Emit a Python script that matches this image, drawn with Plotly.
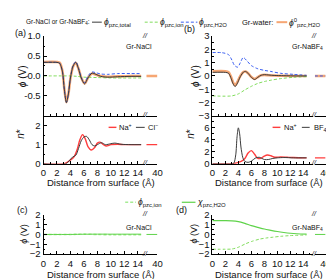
import plotly.graph_objects as go

# ---------------- data ----------------
# (a) Gr-NaCl, potential profiles (V)
a_x_total = [0, 2.0, 2.4, 2.8, 3.1, 3.4, 3.7, 4.0, 4.4, 4.8, 5.2, 5.6, 6.1, 6.6, 7.2, 7.8, 8.5, 9.5, 11, 13, 14.5]
a_total   = [0.34, 0.34, 0.32, 0.12, -0.35, -0.67, -0.45, -0.05, 0.25, 0.34, 0.18, -0.05, -0.2, -0.05, 0.07, 0.04, -0.01, -0.03, -0.02, -0.01, -0.01]
a_water0  = [0.35, 0.35, 0.33, 0.13, -0.33, -0.66, -0.45, -0.06, 0.24, 0.33, 0.18, -0.04, -0.19, -0.05, 0.06, 0.03, 0.0, -0.02, -0.01, 0.0, 0.0]
a_h2o     = [0.34, 0.34, 0.32, 0.12, -0.35, -0.66, -0.44, -0.04, 0.27, 0.36, 0.2, -0.03, -0.17, 0.0, 0.1, 0.08, 0.05, 0.04, 0.06, 0.06, 0.06]
a_x_ion   = [0, 4, 5, 6, 8, 10, 14.5]
a_ion     = [0, 0, -0.01, -0.03, -0.04, -0.05, -0.05]
# (a) number densities
a_x_na = [0, 3.0, 3.5, 4.0, 4.5, 5.0, 5.4, 5.8, 6.2, 6.6, 7.1, 7.6, 8.0, 8.4, 8.8, 9.3, 10, 11, 12, 13, 14.5]
a_na   = [0, 0, 0.08, 0.2, 0.35, 0.75, 1.25, 1.52, 1.3, 0.9, 0.72, 0.85, 1.08, 1.13, 1.02, 0.93, 1.0, 1.02, 1.0, 1.0, 1.0]
a_x_cl = [0, 3.3, 3.8, 4.3, 4.8, 5.2, 5.6, 6.0, 6.4, 6.8, 7.2, 7.6, 8.0, 8.6, 9.2, 10, 10.6, 11.5, 13, 14.5]
a_cl   = [0, 0, 0.15, 0.35, 0.45, 0.8, 1.2, 1.4, 1.43, 1.25, 1.0, 0.93, 1.0, 1.1, 1.0, 1.05, 1.08, 1.02, 1.0, 1.0]

# (b) Gr-NaBF4, potential profiles (V)
b_x_total = [0, 2.0, 2.5, 2.9, 3.2, 3.5, 3.8, 4.3, 4.8, 5.1, 5.5, 6.0, 6.5, 7.0, 7.5, 8.0, 8.7, 9.5, 11, 13, 14.5]
b_total   = [0.27, 0.27, 0.2, -0.2, -0.6, -0.8, -0.6, -0.05, 0.3, 0.34, 0.2, -0.1, -0.27, -0.1, 0.05, 0.1, 0.07, 0.04, 0.02, 0.0, 0.0]
b_water0  = [0.35, 0.35, 0.28, -0.1, -0.5, -0.7, -0.5, 0.0, 0.3, 0.33, 0.2, -0.08, -0.22, -0.08, 0.05, 0.08, 0.05, 0.03, 0.01, 0.0, 0.0]
b_x_h2o = [0, 1.5, 2.5, 3.0, 3.4, 3.9, 4.3, 4.75, 5.3, 6.0, 7.0, 8.0, 9.0, 10.5, 12.5, 14.5]
b_h2o   = [1.76, 1.75, 1.6, 1.2, 0.8, 0.66, 1.0, 1.39, 1.15, 0.78, 0.54, 0.42, 0.34, 0.2, 0.12, 0.05]
b_x_ion = [0, 3, 4, 5, 6, 7, 8, 9, 10.5, 12.5, 14.5]
b_ion   = [-1.5, -1.5, -1.35, -1.05, -0.78, -0.56, -0.42, -0.32, -0.2, -0.1, -0.05]
# (b) number densities
b_x_bf4 = [0, 3.0, 3.3, 3.6, 3.8, 4.0, 4.2, 4.4, 4.7, 5.0, 5.5, 6.0, 6.6, 7.2, 8.0, 8.6, 9.3, 10, 11, 12.5, 14.5]
b_bf4   = [0, 0, 0.1, 1.5, 4.5, 6.0, 5.0, 2.8, 1.0, 0.4, 0.25, 0.45, 0.95, 1.1, 0.72, 0.72, 0.9, 1.0, 1.05, 1.0, 1.0]
b_x_na = [0, 3.0, 3.5, 4.0, 4.5, 5.0, 5.5, 6.0, 6.5, 7.0, 7.5, 8.0, 8.5, 9.0, 9.6, 10.5, 11.5, 12.5, 14.5]
b_na   = [0, 0, 0.1, 0.25, 0.45, 0.9, 1.8, 2.2, 1.6, 0.9, 0.95, 1.3, 1.47, 1.35, 1.1, 1.15, 1.1, 1.05, 1.0]

# (c) Gr-NaCl decomposition
c_x_chi = [0, 4, 5, 6, 8, 10, 14.5]
c_chi   = [0, 0, 0.01, 0.02, 0.03, 0.03, 0.03]
c_x_ion = [0, 4, 5, 6, 8, 10, 14.5]
c_ion   = [0, 0, 0.02, 0.03, 0.0, -0.03, -0.03]
# (d) Gr-NaBF4 decomposition
d_x_chi = [0, 2, 3, 4, 5, 6, 7, 8, 9, 10, 11, 12, 13, 14.5]
d_chi   = [1.4, 1.4, 1.38, 1.3, 1.12, 0.9, 0.72, 0.55, 0.42, 0.3, 0.2, 0.12, 0.07, 0.03]
d_x_ion = [0, 2, 3, 4, 5.1, 6, 7.3, 8.3, 9.3, 10.5, 11.9, 14.5]
d_ion   = [-1.5, -1.5, -1.48, -1.3, -0.95, -0.72, -0.47, -0.36, -0.28, -0.19, -0.12, -0.05]

# far-field (right axis segment)
far_x = [15, 40]
far_zero = [0, 0]
far_one = [1, 1]

# tick labels
xt_left = [0, 2, 4, 6, 8, 10, 12, 14]
xt_right = [40]

# ---------------- style ----------------
W, H = 334, 279
FONT = "Liberation Sans, Arial, sans-serif"
C_TOTAL = "#3a3a3a"
C_ION = "#80dc5c"
C_H2O = "#3a5ef0"
C_W0 = "rgba(245,150,90,0.85)"
C_NA = "#ff3d3d"
C_AN = "#3a3a3a"
C_CHI = "#5fd34a"
C_ION2 = "#a6ec94"

def fx(px):
    return px / W

def fy(py):
    return 1 - py / H

fig = go.Figure()
layout = {}

def make_pair(idx, xl, xb, xr, yt, yb, xr_left, yrange, ytv, ytt, show_xlab, ydt_minor):
    # left segment idx, right segment idx+1
    for k, (d0, d1, rng, tv, right) in enumerate([
        (xl, xb, xr_left, xt_left, False),
        (xb + 1.8, xr, [15, 40], xt_right, True),
    ]):
        n = idx + k
        xa = dict(domain=[fx(d0), fx(d1)], range=rng, anchor=f"y{n}",
                  showline=True, linecolor="#000", linewidth=1,
                  ticks="inside", ticklen=3, tickwidth=1, tickcolor="#000",
                  tickvals=tv, showticklabels=show_xlab, tickangle=0,
                  tickfont=dict(size=9.5, color="#111", family=FONT),
                  showgrid=False, zeroline=False)
        if not right:
            xa["minor"] = dict(dtick=1, tick0=0, ticks="inside", ticklen=1.5, tickcolor="#000")
        ya = dict(domain=[fy(yb), fy(yt)], range=yrange, anchor=f"x{n}",
                  showgrid=False, zeroline=False)
        if right:
            ya.update(visible=False)
        else:
            ya.update(showline=True, linecolor="#000", linewidth=1,
                      ticks="inside", ticklen=3, tickwidth=1, tickcolor="#000",
                      tickvals=ytv, ticktext=ytt,
                      tickfont=dict(size=9.5, color="#111", family=FONT),
                      minor=dict(dtick=ydt_minor, tick0=0, ticks="inside", ticklen=1.5, tickcolor="#000"))
        layout[f"xaxis{n}"] = xa
        layout[f"yaxis{n}"] = ya

A_XL, A_XB, A_XR = 33.3, 136.8, 150
B_XL, B_XB, B_XR = 206.3, 309.5, 322.3
TOP_T, TOP_B, BOT_B = 23, 106, 156
CD_T, CD_B = 209, 250

make_pair(1, A_XL, A_XB, A_XR, TOP_T, TOP_B, [0, 15], [-1, 1],
          [-0.5, 0, 0.5, 1.0], ["-0.5", "0.0", "0.5", "1.0"], False, 0.25)
make_pair(3, A_XL, A_XB, A_XR, TOP_B, BOT_B, [0, 15], [0, 2.5],
          [0, 1, 2], ["0", "1", "2"], True, 0.5)
make_pair(5, B_XL, B_XB, B_XR, TOP_T, TOP_B, [0, 15.5], [-3, 3],
          [-3, -2, -1, 0, 1, 2, 3], ["\u22123", "\u22122", "\u22121", "0", "1", "2", "3"], False, 0.5)
make_pair(7, B_XL, B_XB, B_XR, TOP_B, BOT_B, [0, 15.5], [0, 8],
          [0, 2, 4, 6], ["0", "2", "4", "6"], True, 1)
make_pair(9, A_XL, A_XB, A_XR, CD_T, CD_B, [0, 15], [-2, 2],
          [-2, -1, 0, 1, 2], ["\u22122", "\u22121", "0", "1", "2"], True, 0.5)
make_pair(11, B_XL, B_XB, B_XR, CD_T, CD_B, [0, 15.5], [-2, 2],
          [-2, -1, 0, 1, 2], ["\u22122", "\u22121", "0", "1", "2"], True, 0.5)

def line(x, y, n, color, width=1, dash="solid", shape="spline"):
    fig.add_trace(go.Scatter(x=x, y=y, xaxis=f"x{n}" if n > 1 else "x",
                             yaxis=f"y{n}" if n > 1 else "y", mode="lines",
                             line=dict(color=color, width=width, dash=dash, shape=shape, smoothing=0.8),
                             showlegend=False, hoverinfo="skip"))

DASH = "3px,2px"
# (a) top
line(a_x_total, a_water0, 1, C_W0, 2.6)
line(a_x_ion, a_ion, 1, C_ION, 1, DASH)
line(a_x_total, a_h2o, 1, C_H2O, 1, DASH)
line(a_x_total, a_total, 1, C_TOTAL, 1)
line(far_x, far_zero, 2, C_W0, 2.6, shape="linear")
# (a) bottom
line(a_x_na, a_na, 3, C_NA, 1.4)
line(a_x_cl, a_cl, 3, C_AN, 1)
line(far_x, far_one, 4, C_NA, 1.4, shape="linear")
# (b) top
line(b_x_total, b_water0, 5, C_W0, 2.6)
line(b_x_ion, b_ion, 5, C_ION, 1, DASH)
line(b_x_h2o, b_h2o, 5, C_H2O, 1, DASH)
line(b_x_total, b_total, 5, C_TOTAL, 1)
line(far_x, far_zero, 6, C_W0, 2.6, shape="linear")
line(far_x, far_zero, 6, C_H2O, 1, DASH, shape="linear")
# (b) bottom
line(b_x_na, b_na, 7, C_NA, 1.4)
line(b_x_bf4, b_bf4, 7, C_AN, 1)
line(far_x, far_one, 8, C_NA, 1.4, shape="linear")
# (c)
line(c_x_ion, c_ion, 9, C_ION2, 1.6, DASH)
line(c_x_chi, c_chi, 9, C_CHI, 1)
line(far_x, far_zero, 10, C_CHI, 1, shape="linear")
# (d)
line(d_x_ion, d_ion, 11, C_ION, 1, DASH)
line(d_x_chi, d_chi, 11, C_CHI, 1.2)
line(far_x, far_zero, 12, C_CHI, 1, shape="linear")

ann = []
shapes = []

def text(px, py, s, size=8, xanchor="left", angle=0, color="#111"):
    ann.append(dict(x=fx(px), y=fy(py), xref="paper", yref="paper", text=s,
                    showarrow=False, xanchor=xanchor, yanchor="middle",
                    textangle=angle, font=dict(size=size, color=color, family=FONT)))

def seg(x0, x1, py, color, width=1, dash="solid"):
    shapes.append(dict(type="line", xref="paper", yref="paper",
                       x0=fx(x0), x1=fx(x1), y0=fy(py), y1=fy(py),
                       line=dict(color=color, width=width, dash=dash)))

PHI = "<i>\u03d5</i>"
# top legend
text(13, 8.5, "Gr-NaCl or Gr-NaBF<sub>4</sub>:", 6.5, "left")
seg(83, 93, 8.5, C_TOTAL, 1)
text(93, 8.5, PHI + "<sub>pzc,total</sub>", 8.5)
seg(137, 151, 8.5, C_ION, 1, DASH)
text(151, 8.5, PHI + "<sub>pzc,ion</sub>", 8.5)
seg(174, 191, 8.5, C_H2O, 1, DASH)
text(191, 8.5, PHI + "<sub>pzc,H2O</sub>", 8.5)
text(235, 8.5, "Gr-water:", 7.5)
seg(272, 283, 8.5, C_W0, 2)
text(283, 8.5, PHI + "<sup>0</sup><sub>pzc,H2O</sub>", 8.5)
# middle legend
seg(117, 128, 196, C_ION2, 1.6, DASH)
text(128, 196, PHI + "<sub>pzc,ion</sub>", 8.5)
seg(175, 189, 196, C_CHI, 1.2)
text(189, 196, "<i>\u03c7</i><sub>pzc,H2O</sub>", 8.5)
# density legends
seg(100, 108, 118, C_NA, 1.4)
text(109, 118, "Na<sup>+</sup>", 7.5)
seg(128, 137, 118, C_AN, 1)
text(138, 118, "Cl<sup>\u2212</sup>", 7.5)
seg(268, 276, 118, C_NA, 1.4)
text(278, 118, "Na<sup>+</sup>", 7.5)
seg(298, 306, 118, C_AN, 1)
text(308, 118, "BF<sub>4</sub><sup>\u2212</sup>", 7.5)
# sample names
text(146, 34, "Gr-NaCl", 7, "right")
text(322, 34, "Gr-NaBF<sub>4</sub>", 7, "right")
text(147, 222, "Gr-NaCl", 7, "right")
text(322, 223, "Gr-NaBF<sub>4</sub>", 7, "right")
# panel labels
text(2, 20, "(a)", 9)
text(175, 16, "(b)", 9)
text(4, 204, "(c)", 9)
text(167, 204, "(d)", 9)
# axis titles
text(12, 65, PHI + " (V)", 10, "center", -90)
text(9, 125, "<i>n</i>*", 10, "center", -90)
text(189, 64, PHI + " (V)", 10, "center", -90)
text(183, 125, "<i>n</i>*", 10, "center", -90)
text(13, 229, PHI + " (V)", 9, "center", -90)
text(187, 229, PHI + " (V)", 9, "center", -90)
for cx in (92, 264):
    text(cx, 175, "Distance from surface (\u00c5)", 9.5, "center")
    text(cx, 271, "Distance from surface (\u00c5)", 9.5, "center")
# axis-break marks
for bx in (A_XB + 0.9, B_XB + 0.9):
    for by in (TOP_T, TOP_B, BOT_B, CD_T, CD_B):
        text(bx, by - 1, "<i>//</i>", 7, "center")

fig.update_layout(**layout)
fig.update_layout(width=W, height=H, margin=dict(l=0, r=0, t=0, b=0),
                  paper_bgcolor="white", plot_bgcolor="white",
                  showlegend=False, annotations=ann, shapes=shapes,
                  font=dict(family=FONT, size=9, color="#111"))
fig.write_html("out.html")
